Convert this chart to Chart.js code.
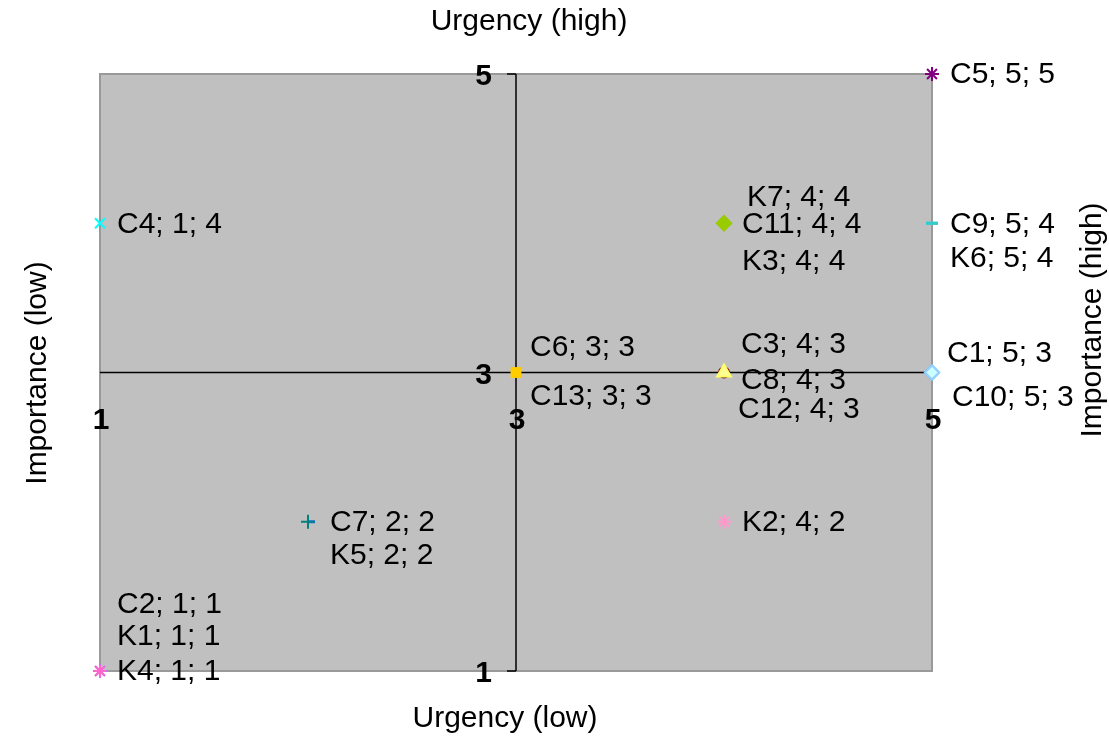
<!DOCTYPE html>
<html>
<head>
<meta charset="utf-8">
<script src="https://cdn.jsdelivr.net/npm/chart.js@4.4.1/dist/chart.umd.min.js"></script>
<style>
  html, body { margin: 0; padding: 0; background: #fff; }
  #wrap { width: 1109px; height: 736px; position: relative; }
</style>
</head>
<body>
<div id="wrap"><canvas id="matrix"></canvas></div>
<script>
// Data
const seriesNames = ['C1', 'C2', 'C3', 'C4', 'C5', 'C6', 'C7', 'C8', 'C9', 'C10', 'C11', 'C12', 'C13',
                     'K1', 'K2', 'K3', 'K4', 'K5', 'K6', 'K7'];
const urgency    = [5, 1, 4, 1, 5, 3, 2, 4, 5, 5, 4, 4, 3, 1, 4, 4, 1, 2, 5, 4];
const importance = [3, 1, 3, 4, 5, 3, 2, 3, 4, 3, 4, 3, 3, 1, 2, 4, 1, 2, 4, 4];
const xTicks = [1, 3, 5];
const yTicks = [1, 3, 5];

// Marker looks per series
const markerStyle = ['rectRot', 'star', 'triangle', 'crossRot', 'star', 'rect', 'cross', 'dash', 'line', 'rectRot',
                     'rectRot', 'circle', 'rect', 'star', 'star', 'rectRot', 'crossRot', 'dash', 'line', 'rectRot'];
const markerFill = ['#CCFFFF', '#FF66CC', '#FFFF99', '#00FFFF', '#800080', '#FFCC00', '#008080', '#0000FF', '#33CCCC', '#00CCFF',
                    '#99CC00', '#800000', '#FFCC00', '#CC66FF', '#FF99CC', '#99CC00', '#FFCC99', '#3366FF', '#33CCCC', '#CC99FF'];
const markerLine = ['#99CCFF', '#FF66CC', '#FFFF66', '#00FFFF', '#800080', '#FFCC00', '#008080', '#0000FF', '#33CCCC', '#00CCFF',
                    '#99CC00', '#800000', '#FFCC00', '#CC66FF', '#FF99CC', '#99CC00', '#FFCC99', '#3366FF', '#33CCCC', '#CC99FF'];
const markerSize = [7, 6, 8, 7, 7, 6, 7, 6, 6, 7, 7, 5, 6, 7, 7, 7, 7, 7, 6, 7];

// Label placement (pixel offsets from each point)
const labelDx = [15, 17, 17, 17, 18, 14, 22, 17, 18, 20, 18, 14, 14, 17, 18, 18, 17, 22, 18, 23];
const labelDy = [-19, -66, -28, 1, 1, -25, 1, 8, 1, 25, 1, 37, 24, -34, 1, 38, 1, 34, 35, -26];

const FONT = '"Liberation Sans", Arial, sans-serif';

const quadrantPlugin = {
  id: 'quadrant',
  beforeDatasetsDraw(chart) {
    const { ctx, chartArea: a, scales: { x, y } } = chart;
    ctx.save();
    ctx.fillStyle = '#C0C0C0';
    ctx.fillRect(a.left, a.top, a.right - a.left, a.bottom - a.top);
    ctx.strokeStyle = '#999999';
    ctx.lineWidth = 2;
    ctx.strokeRect(a.left, a.top, a.right - a.left, a.bottom - a.top);

    const cx = x.getPixelForValue(3);
    const cy = y.getPixelForValue(3);
    ctx.strokeStyle = '#000';
    ctx.lineWidth = 1.5;
    ctx.beginPath();
    ctx.moveTo(cx, a.top);
    ctx.lineTo(cx, a.bottom);
    ctx.moveTo(a.left, cy);
    ctx.lineTo(a.right, cy);
    yTicks.forEach(v => {
      const py = y.getPixelForValue(v);
      ctx.moveTo(cx - 9, py);
      ctx.lineTo(cx, py);
    });
    ctx.stroke();

    // tick labels
    ctx.fillStyle = '#000';
    ctx.font = 'bold 30px ' + FONT;
    ctx.textAlign = 'right';
    ctx.textBaseline = 'middle';
    yTicks.forEach(v => ctx.fillText(String(v), cx - 24, y.getPixelForValue(v) + 3));
    ctx.textAlign = 'center';
    xTicks.forEach(v => ctx.fillText(String(v), x.getPixelForValue(v) + 1, cy + 48));
    ctx.restore();
  },
  afterDatasetsDraw(chart) {
    const { ctx, scales: { x, y } } = chart;
    ctx.save();
    ctx.fillStyle = '#000';
    ctx.font = '30px ' + FONT;
    ctx.textAlign = 'left';
    ctx.textBaseline = 'middle';
    seriesNames.forEach((name, i) => {
      const px = x.getPixelForValue(urgency[i]) + labelDx[i];
      const py = y.getPixelForValue(importance[i]) + labelDy[i];
      ctx.fillText(`${name}; ${urgency[i]}; ${importance[i]}`, px, py);
    });

    // axis titles
    ctx.textAlign = 'center';
    ctx.fillText('Urgency (high)', 529, 22);
    ctx.fillText('Urgency (low)', 505, 719);
    ctx.save();
    ctx.translate(38, 373);
    ctx.rotate(-Math.PI / 2);
    ctx.fillText('Importance (low)', 0, 0);
    ctx.restore();
    ctx.save();
    ctx.translate(1093, 320);
    ctx.rotate(-Math.PI / 2);
    ctx.fillText('Importance (high)', 0, 0);
    ctx.restore();
    ctx.restore();
  }
};

function buildDatasets() {
  return seriesNames.map((name, i) => ({
    label: name,
    data: [{ x: urgency[i], y: importance[i] }],
    pointStyle: markerStyle[i],
    backgroundColor: markerFill[i],
    borderColor: markerLine[i],
    pointRadius: markerSize[i],
    pointBorderWidth: (markerStyle[i] === 'line' || markerStyle[i] === 'dash') ? 3 : 2,
    clip: false
  }));
}

function initChart() {
  const ctx = document.getElementById('matrix').getContext('2d');
  new Chart(ctx, {
    type: 'scatter',
    data: { datasets: buildDatasets() },
    options: {
      responsive: true,
      maintainAspectRatio: false,
      animation: false,
      layout: { padding: { left: 100, right: 177, top: 74, bottom: 65 } },
      scales: {
        x: { type: 'linear', min: 1, max: 5, display: false },
        y: { type: 'linear', min: 1, max: 5, display: false }
      },
      plugins: {
        legend: { display: false },
        tooltip: { enabled: false }
      }
    },
    plugins: [quadrantPlugin]
  });
}

document.addEventListener('DOMContentLoaded', initChart);
</script>
</body>
</html>
